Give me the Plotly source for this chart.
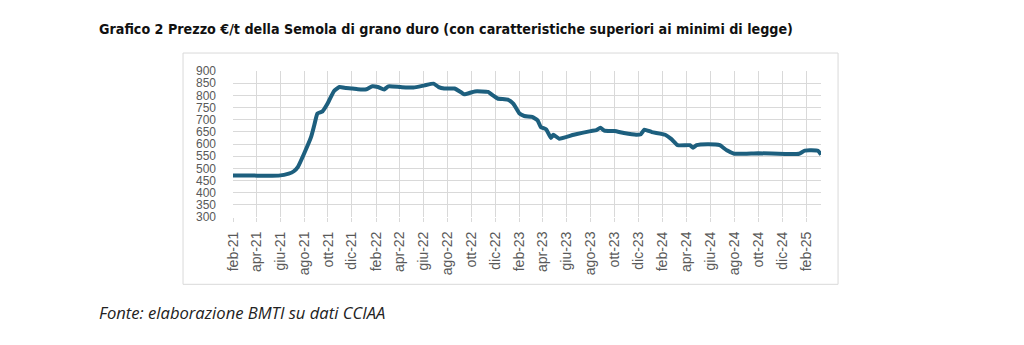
import plotly.graph_objects as go

# Prezzo della semola di grano duro, €/t (rilevazioni periodiche)
dates = [
    "2021-02-01", "2021-04-04", "2021-05-28", "2021-06-23", "2021-07-06",
    "2021-07-16", "2021-08-01", "2021-08-19", "2021-08-27", "2021-09-04",
    "2021-09-17", "2021-09-30", "2021-10-16", "2021-10-30", "2021-11-16",
    "2021-12-02", "2021-12-16", "2022-01-07", "2022-01-22", "2022-02-05",
    "2022-02-21", "2022-03-04", "2022-04-04", "2022-05-07", "2022-06-04",
    "2022-06-27", "2022-07-10", "2022-07-24", "2022-08-19", "2022-09-04",
    "2022-09-13", "2022-10-10", "2022-11-13", "2022-11-25", "2022-12-07",
    "2023-01-02", "2023-01-16", "2023-02-01", "2023-02-13", "2023-03-05",
    "2023-03-19", "2023-03-27", "2023-04-10", "2023-04-22", "2023-04-28",
    "2023-05-13", "2023-06-19", "2023-08-01", "2023-08-16", "2023-08-26",
    "2023-09-05", "2023-10-01", "2023-10-25", "2023-11-25", "2023-12-07",
    "2023-12-16", "2024-01-04", "2024-02-07", "2024-02-23", "2024-03-10",
    "2024-04-10", "2024-04-18", "2024-04-27", "2024-05-25", "2024-06-25",
    "2024-07-13", "2024-08-01", "2024-10-01", "2024-12-09", "2025-01-13",
    "2025-01-28", "2025-03-02", "2025-03-10",
]
prezzo = [
    471, 470, 470, 478, 488,
    505, 560, 629, 677, 725,
    734, 766, 817, 834, 830,
    828, 825, 825, 837, 834,
    824, 837, 834, 832, 841,
    848, 834, 828, 828, 814,
    804, 816, 814, 800, 787,
    782, 766, 725, 715, 711,
    697, 670, 660, 625, 638,
    622, 638, 653, 657, 667,
    655, 653, 645, 638, 640,
    659, 649, 638, 620, 595,
    595, 585, 595, 599, 595,
    574, 560, 562, 559, 560,
    573, 572, 556,
]

# Etichette bimestrali dell'asse temporale
tick_dates = [
    "2021-02-01", "2021-04-01", "2021-06-01", "2021-08-01", "2021-10-01", "2021-12-01",
    "2022-02-01", "2022-04-01", "2022-06-01", "2022-08-01", "2022-10-01", "2022-12-01",
    "2023-02-01", "2023-04-01", "2023-06-01", "2023-08-01", "2023-10-01", "2023-12-01",
    "2024-02-01", "2024-04-01", "2024-06-01", "2024-08-01", "2024-10-01", "2024-12-01",
    "2025-02-01",
]
tick_labels = [
    "feb-21", "apr-21", "giu-21", "ago-21", "ott-21", "dic-21",
    "feb-22", "apr-22", "giu-22", "ago-22", "ott-22", "dic-22",
    "feb-23", "apr-23", "giu-23", "ago-23", "ott-23", "dic-23",
    "feb-24", "apr-24", "giu-24", "ago-24", "ott-24", "dic-24",
    "feb-25",
]
y_ticks = list(range(300, 901, 50))

LINE_COLOR = "#1d5f7e"
GRID = "#d9d9d9"
X_FONT = dict(family="Liberation Sans, Arial, sans-serif", size=14, color="#595959")
Y_FONT = dict(family="Liberation Sans, Arial, sans-serif", size=12, color="#595959")

fig = go.Figure()
fig.add_trace(go.Scatter(
    x=dates, y=prezzo, mode="lines",
    line=dict(color=LINE_COLOR, width=4, shape="spline", smoothing=0.4),
    hoverinfo="x+y", showlegend=False, cliponaxis=False,
))

fig.update_layout(
    width=1024, height=345,
    margin=dict(l=233, r=203, t=71, b=128),
    paper_bgcolor="white", plot_bgcolor="white",
    xaxis=dict(
        type="date", range=["2021-02-01", "2025-03-10"],
        tickmode="array", tickvals=tick_dates, ticktext=tick_labels,
        tickangle=-90, tickfont=X_FONT,
        showgrid=True, gridcolor=GRID, gridwidth=1,
        ticks="outside", ticklen=4, tickcolor=GRID, ticklabelstandoff=4,
        showline=False, zeroline=False,
    ),
    yaxis=dict(
        range=[300, 900], tickmode="array", tickvals=y_ticks,
        tickfont=Y_FONT, showgrid=True, gridcolor=GRID, gridwidth=1,
        ticks="", ticklabelstandoff=16, showline=False, zeroline=False,
    ),
    shapes=[dict(
        type="rect", xref="paper", yref="paper",
        x0=-0.085, x1=1.029, y0=-0.461, y1=1.123,
        line=dict(color="#d9d9d9", width=1), fillcolor="rgba(0,0,0,0)",
        layer="below",
    )],
    annotations=[
        dict(
            text="<b>Grafico 2 Prezzo €/t della Semola di grano duro (con caratteristiche superiori ai minimi di legge)</b>",
            xref="paper", yref="paper", x=(97 - 233) / 588, y=(216.7 - 29) / 146,
            xanchor="left", yanchor="middle", showarrow=False,
            font=dict(family="DejaVu Sans Condensed, sans-serif", size=14.2, color="#111111"),
        ),
        dict(
            text="<i>Fonte: elaborazione BMTI su dati CCIAA</i>",
            xref="paper", yref="paper", x=(97 - 233) / 588, y=(216.7 - 312) / 146,
            xanchor="left", yanchor="middle", showarrow=False,
            font=dict(family="Open Sans, sans-serif", size=16.6, color="#222222"),
        ),
    ],
)

fig.write_html("out.html")
